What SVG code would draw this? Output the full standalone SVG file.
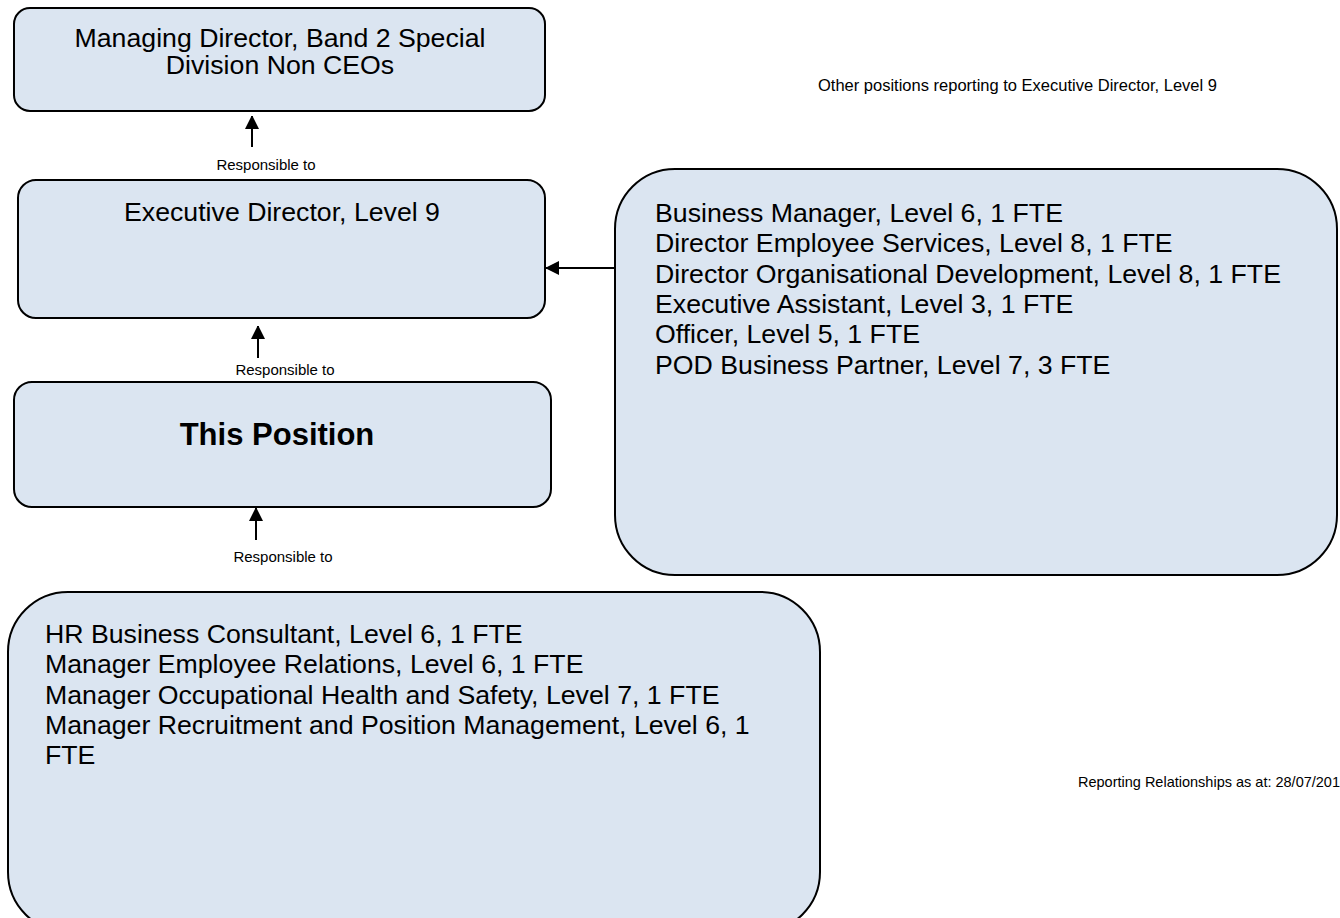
<svg xmlns="http://www.w3.org/2000/svg" width="1340" height="918" viewBox="0 0 1340 918">
  <style>
    .box { fill: #DBE5F1; stroke: #000; stroke-width: 2; }
    .t { font-family: "Liberation Sans", Arial, sans-serif; fill: #000; }
    .big { font-size: 26.7px; }
    .small { font-size: 15px; }
    .mid { text-anchor: middle; }
    .link { stroke: #000; stroke-width: 2; fill: none; }
  </style>
  <defs>
    <marker id="head" viewBox="0 0 12 14" refX="13" refY="7" markerWidth="12" markerHeight="14" markerUnits="userSpaceOnUse" orient="auto">
      <path d="M0,0 L14,7 L0,14 Z" fill="#000"/>
    </marker>
  </defs>

  <rect width="1340" height="918" fill="#fff"/>

  <g id="managing-director">
    <rect class="box" x="14" y="8" width="531" height="103" rx="16"/>
    <text class="t big mid" x="280" y="47">Managing Director, Band 2 Special</text>
    <text class="t big mid" x="280" y="74">Division Non CEOs</text>
  </g>

  <g id="executive-director">
    <rect class="box" x="18" y="180" width="527" height="138" rx="18"/>
    <text class="t big mid" x="282" y="221">Executive Director, Level 9</text>
  </g>

  <g id="this-position">
    <rect class="box" x="14" y="382" width="537" height="125" rx="18"/>
    <text class="t mid" x="277" y="445" font-size="31" font-weight="bold">This Position</text>
  </g>

  <g id="other-positions">
    <text class="t" x="818" y="91" font-size="16.5">Other positions reporting to Executive Director, Level 9</text>
    <rect class="box" x="615" y="169" width="722" height="406" rx="60"/>
    <text class="t big" x="655" y="222">Business Manager, Level 6, 1 FTE</text>
    <text class="t big" x="655" y="252">Director Employee Services, Level 8, 1 FTE</text>
    <text class="t big" x="655" y="283">Director Organisational Development, Level 8, 1 FTE</text>
    <text class="t big" x="655" y="313">Executive Assistant, Level 3, 1 FTE</text>
    <text class="t big" x="655" y="343">Officer, Level 5, 1 FTE</text>
    <text class="t big" x="655" y="374">POD Business Partner, Level 7, 3 FTE</text>
  </g>

  <g id="direct-reports">
    <rect class="box" x="8" y="592" width="812" height="340" rx="60"/>
    <text class="t big" x="45" y="643">HR Business Consultant, Level 6, 1 FTE</text>
    <text class="t big" x="45" y="673">Manager Employee Relations, Level 6, 1 FTE</text>
    <text class="t big" x="45" y="704">Manager Occupational Health and Safety, Level 7, 1 FTE</text>
    <text class="t big" x="45" y="734">Manager Recruitment and Position Management, Level 6, 1</text>
    <text class="t big" x="45" y="764">FTE</text>
  </g>

  <text class="t" x="1078" y="787" font-size="14.5">Reporting Relationships as at: 28/07/2010</text>

  <g id="connectors">
    <line class="link" x1="252" y1="147" x2="252" y2="116" marker-end="url(#head)"/>
    <text class="t small mid" x="266" y="170">Responsible to</text>
    <line class="link" x1="258" y1="358" x2="258" y2="326" marker-end="url(#head)"/>
    <text class="t small mid" x="285" y="375">Responsible to</text>
    <line class="link" x1="256" y1="540" x2="256" y2="508" marker-end="url(#head)"/>
    <text class="t small mid" x="283" y="562">Responsible to</text>
    <line class="link" x1="615" y1="268" x2="546" y2="268" marker-end="url(#head)"/>
  </g>
</svg>
